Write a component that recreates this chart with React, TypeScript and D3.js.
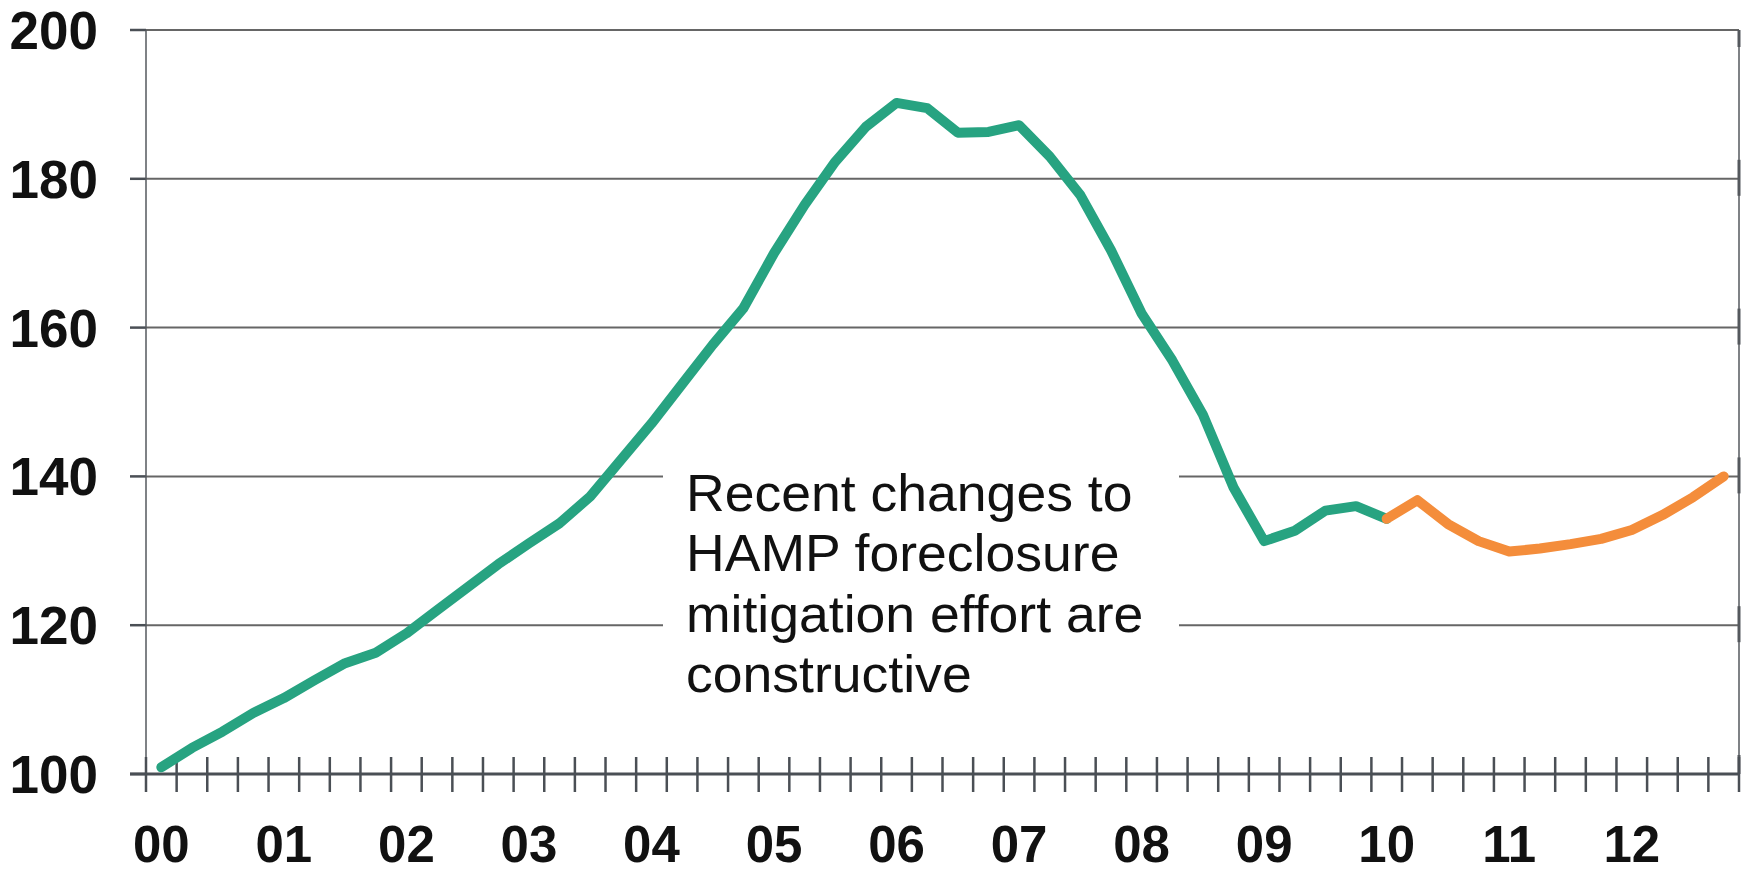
import React from "react";
import * as d3 from "d3";

const yearLabels = ["00", "01", "02", "03", "04", "05", "06", "07", "08", "09", "10", "11", "12"];
const yTicks = [100, 120, 140, 160, 180, 200];
// quarterly index values, 2000Q1 .. 2010Q1
const historyValues = [
  100.9, 103.5, 105.7, 108.2, 110.2, 112.6, 114.9, 116.3, 118.9, 122.0,
  125.1, 128.2, 131.0, 133.7, 137.3, 142.2, 147.1, 152.4, 157.7, 162.6,
  170.0, 176.5, 182.3, 187.0, 190.2, 189.5, 186.2, 186.3, 187.2, 183.0,
  177.8, 170.4, 161.9, 155.6, 148.3, 138.5, 131.3, 132.7, 135.4, 136.0,
  134.3,
];
// forecast values, 2010Q1 .. 2012Q4
const forecastValues = [134.3, 136.8, 133.6, 131.3, 129.9, 130.3, 130.9, 131.6, 132.8, 134.8, 137.2, 140.0];
const forecastStart = 40;
const annotationLines = [
  "Recent changes to",
  "HAMP foreclosure",
  "mitigation effort are",
  "constructive",
];

const W = 1744;
const H = 875;
const left = 146;
const right = 1739;
const top = 30;
const bottom = 774;
const nQuarters = yearLabels.length * 4;

const font = "'Liberation Sans', Arial, Helvetica, sans-serif";

export default function App() {
  const x = d3.scaleLinear().domain([0, nQuarters]).range([left, right]);
  const y = d3.scaleLinear().domain([100, 200]).range([bottom, top]);

  const line = d3
    .line<[number, number]>()
    .x((d) => x(d[0] + 0.5))
    .y((d) => y(d[1]));

  const histPts: [number, number][] = historyValues.map((v, i) => [i, v]);
  const forePts: [number, number][] = forecastValues.map((v, i) => [i + forecastStart, v]);

  const quarterTicks = d3.range(0, nQuarters + 1);

  return (
    <svg
      width={W}
      height={H}
      viewBox={`0 0 ${W} ${H}`}
      style={{ position: "absolute", left: 0, top: 0, background: "#fff" }}
    >
      {/* gridlines */}
      {yTicks.map((t) => (
        <g key={t}>
          {t !== 100 && (
            <line x1={left} x2={right} y1={y(t)} y2={y(t)} stroke="#666" strokeWidth={2} />
          )}
          <line x1={left - 16} x2={left} y1={y(t)} y2={y(t)} stroke="#4a4f55" strokeWidth={2.5} />
          <line
            x1={right}
            x2={right}
            y1={Math.max(top, y(t) - 19)}
            y2={Math.min(bottom, y(t) + 17)}
            stroke="#55595e"
            strokeWidth={3}
          />
          <text
            x={98}
            y={y(t)}
            dy="0.36em"
            textAnchor="end"
            fontFamily={font}
            fontWeight={700}
            fontSize={53}
            fill="#111"
          >
            {t}
          </text>
        </g>
      ))}
      {/* left & right axis lines */}
      <line x1={left} x2={left} y1={top} y2={bottom} stroke="#55595e" strokeWidth={1.5} />
      <line x1={right} x2={right} y1={top} y2={bottom} stroke="#55595e" strokeWidth={1.5} />

      {/* annotation background box */}
      <rect x={663} y={455} width={516} height={250} fill="#fff" />

      {/* x axis */}
      <line x1={left - 16} x2={right} y1={bottom} y2={bottom} stroke="#4a4f55" strokeWidth={3} />
      {quarterTicks.map((q) => (
        <line key={q} x1={x(q)} x2={x(q)} y1={bottom - 17} y2={bottom + 18} stroke="#4a4f55" strokeWidth={2.5} />
      ))}
      {yearLabels.map((lab, k) => (
        <text
          key={lab}
          x={x(k * 4 + 0.5)}
          y={862}
          textAnchor="middle"
          fontFamily={font}
          fontWeight={700}
          fontSize={51}
          fill="#111"
        >
          {lab}
        </text>
      ))}

      {/* series */}
      <path
        d={line(histPts) || ""}
        fill="none"
        stroke="#27a381"
        strokeWidth={10}
        strokeLinejoin="round"
        strokeLinecap="round"
      />
      <path
        d={line(forePts) || ""}
        fill="none"
        stroke="#f48d3b"
        strokeWidth={10}
        strokeLinejoin="round"
        strokeLinecap="round"
      />

      {/* annotation */}
      <g transform="translate(686,0) scale(1.03,1)">
        {annotationLines.map((s, i) => (
          <text key={i} x={0} y={511 + i * 60.3} fontFamily={font} fontSize={52} fill="#111">
            {s}
          </text>
        ))}
      </g>
    </svg>
  );
}
